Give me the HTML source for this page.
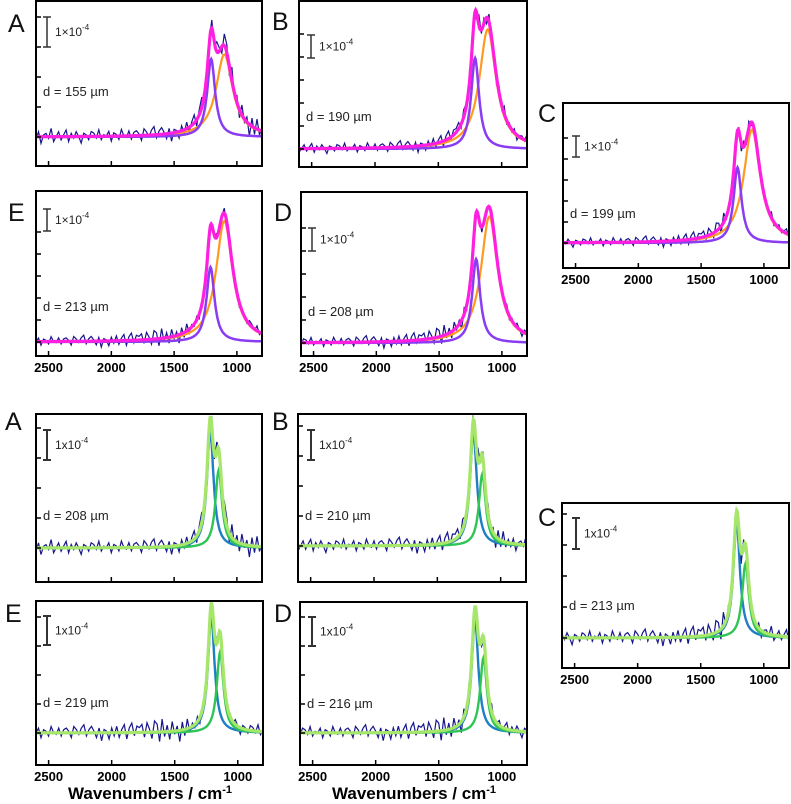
<!DOCTYPE html>
<html><head><meta charset="utf-8"><style>
html,body{margin:0;padding:0;background:#fff;}
svg{display:block;font-family:"Liberation Sans",Arial,sans-serif;}
</style></head><body>
<svg id="fig" width="791" height="804" viewBox="0 0 791 804" xmlns="http://www.w3.org/2000/svg">
<text x="150" y="799" font-size="17" font-weight="bold" text-anchor="middle">Wavenumbers / cm<tspan font-size="11" dy="-6">-1</tspan></text>
<text x="414" y="799" font-size="17" font-weight="bold" text-anchor="middle">Wavenumbers / cm<tspan font-size="11" dy="-6">-1</tspan></text>
</svg>
<script>
// ---- data (absorbance in units of 1e-4, wavenumbers cm-1) ----
const xTicks = [2500, 2000, 1500, 1000];
const topLetters = ['A','B','C','D','E'];
const topThickness = [155, 190, 199, 208, 213];
const topPurpleHeight = [2.6, 3.95, 3.6, 3.65, 3.4];
const topPurpleCenter = [1205, 1210, 1210, 1205, 1210];
const topOrangeHeight = [2.75, 5.2, 5.4, 5.5, 5.5];
const topOrangeCenter = [1100, 1110, 1095, 1100, 1100];
const botLetters = ['A','B','C','D','E'];
const botThickness = [208, 210, 213, 216, 219];
const botBlueHeight = [3.9, 3.8, 3.7, 3.9, 4.0];
const botBlueCenter = [1212, 1215, 1215, 1212, 1210];
const botGreenHeight = [2.6, 2.4, 2.4, 2.6, 2.8];
const botGreenCenter = [1145, 1145, 1145, 1145, 1140];
const noise = [-0.2,0.3,-0.4,0.1,0.2,-0.1,0.5,-0.3,0.0,0.3,-0.2,0.1,0.4,-0.3,0.2,-0.1,0.3,0.0,-0.4,0.2,
 0.1,-0.2,0.3,0.2,-0.1,0.4,-0.2,0.1,0.0,0.3,-0.3,0.2,0.1,-0.2,0.4,0.0,-0.1,0.3,-0.2,0.2,
 0.3,0.1,-0.3,0.4,0.2,-0.1,0.3,0.5,-0.2,0.2,0.4,0.1,-0.3,0.3,-0.5,0.2,0.1,-0.4,0.3,-0.2,
 0.4,-0.3,0.2,0.5,-0.4,0.3,0.6,-0.2,0.4,0.3,0.5,-0.3,0.6,0.2,-0.4,0.7,0.5,-0.6,0.8,-0.3,
 0.4,-0.5,0.6,-0.2,0.3,-0.7,0.5,-0.4,0.6,-0.3,0.2];
// ---- layout ----
const topLayout = [
 {x:36,y:1,w:226,h:165,base:29,scale:30,barX:11,barY:16,dY:90,lx:8,ly:23,labels:false},
 {x:299,y:1,w:228,h:166,base:18,scale:23,barX:12,barY:34,dY:115,lx:272,ly:21,labels:false},
 {x:563,y:103,w:226,h:165,base:25,scale:21,barX:13,barY:33,dY:110,lx:538,ly:113,labels:true},
 {x:301,y:192,w:226,h:164,base:13,scale:23,barX:11,barY:36,dY:119,lx:274,ly:212,labels:true},
 {x:36,y:191,w:226,h:165,base:14,scale:22,barX:11,barY:18,dY:115,lx:8,ly:212,labels:true}];
const botLayout = [
 {x:36,y:414,w:226,h:168,base:34,scale:30,barX:11,barY:16,dY:101,lx:5,ly:421,labels:false},
 {x:298,y:414,w:228,h:168,base:36,scale:30,barX:13,barY:16,dY:101,lx:272,ly:421,labels:false},
 {x:562,y:503,w:227,h:165,base:30,scale:31,barX:14,barY:15,dY:102,lx:538,ly:517,labels:true},
 {x:300,y:602,w:227,h:163,base:32,scale:29,barX:12,barY:15,dY:101,lx:274,ly:613,labels:true},
 {x:36,y:601,w:227,h:164,base:32,scale:29,barX:11,barY:15,dY:101,lx:5,ly:613,labels:true}];

const NS='http://www.w3.org/2000/svg';
const svg=document.getElementById('fig');
function mk(tag, attrs, parent){const e=document.createElementNS(NS,tag);for(const k in attrs)e.setAttribute(k,attrs[k]);(parent||svg).appendChild(e);return e;}
function lor(x,c,h,w){return h/(1+((x-c)/w)*((x-c)/w));}
const wns=[];for(let i=0;i<=90;i++)wns.push(2600-i*20);
const fine=[];for(let v=2600;v>=800;v-=5)fine.push(v);

function panel(L, letter, d, comps, sumColor, sumW, set, idx, topStyle){
  const g=mk('g',{});
  
  
  const sx=v=>L.x+(2600-v)/1800*L.w;
  const sy=a=>L.y+L.h-L.base-a*L.scale;
  const cid='clip'+set+idx;
  const cp=mk('clipPath',{id:cid},g);mk('rect',{x:L.x,y:L.y,width:L.w,height:L.h},cp);
  const plot=mk('g',{'clip-path':'url(#'+cid+')'},g);
  let p='';wns.forEach((v,i)=>{let s=0;comps.forEach(c=>s+=lor(v,c.c,c.h,c.w));const a=s+noise[(i+idx*7)%noise.length]*0.55;p+=(i?'L':'M')+sx(v).toFixed(1)+' '+sy(a).toFixed(1);});
  const tr=mk('path',{d:p,fill:'none',stroke:'#15168a','stroke-width':1.2},plot);
  
  
  comps.forEach(c=>{let q='';fine.forEach((v,i)=>{q+=(i?'L':'M')+sx(v).toFixed(1)+' '+sy(lor(v,c.c,c.h,c.w)).toFixed(1);});
    const e=mk('path',{d:q,fill:'none',stroke:c.col,'stroke-width':c.sw},plot);
    
    });
  let q='';fine.forEach((v,i)=>{let s=0;comps.forEach(c=>s+=lor(v,c.c,c.h,c.w));q+=(i?'L':'M')+sx(v).toFixed(1)+' '+sy(s).toFixed(1);});
  const sm=mk('path',{d:q,fill:'none',stroke:sumColor,'stroke-width':sumW},plot);
  
  
  const fr=mk('rect',{x:L.x,y:L.y,width:L.w,height:L.h,fill:'none',stroke:'#000','stroke-width':2},g);
  
  
  xTicks.forEach(t=>{mk('line',{x1:sx(t),x2:sx(t),y1:L.y+L.h,y2:L.y+L.h-5,stroke:'#000','stroke-width':1.5},g);
    if(L.labels){const tx=mk('text',{x:sx(t),y:L.y+L.h+16,'font-size':13,'font-weight':'bold','text-anchor':'middle'},g);tx.textContent=t;
      
      }});
  for(let k=0;k<6;k++){const yy=L.y+L.h-L.base-k*L.scale;if(yy<L.y+3)break;mk('line',{x1:L.x,x2:L.x+5,y1:yy,y2:yy,stroke:'#000','stroke-width':1.5},g);}
  const bx=L.x+L.barX,by=L.y+L.barY,bh=L.scale;
  const sb=mk('path',{d:`M${bx-4} ${by}H${bx+4}M${bx} ${by}V${by+bh}M${bx-4} ${by+bh}H${bx+4}`,stroke:'#333','stroke-width':topStyle?1.5:2,fill:'none'},g);
  
  
  const st=mk('text',{x:bx+8,y:by+bh/2+4,'font-size':12,fill:'#222'},g);
  st.innerHTML=(topStyle?'1×10':'1x10')+'<tspan font-size="8" dy="-6">-4</tspan>';
  
  
  const dt=mk('text',{x:L.x+7,y:L.y+L.dY+5,'font-size':13,fill:'#222'},g);dt.textContent='d = '+d+' µm';
  
  
  const lt=mk('text',{x:L.lx,y:L.ly+9,'font-size':25,fill:'#111'},g);lt.textContent=letter;
  
  
}
topLetters.forEach((l,i)=>panel(topLayout[i],l,topThickness[i],[
  {c:topOrangeCenter[i],h:topOrangeHeight[i],w:80,col:'#ff9a20',sw:2.2,name:'orange-component'},
  {c:topPurpleCenter[i],h:topPurpleHeight[i],w:38,col:'#8a3cf2',sw:2.5,name:'purple-component'}],'#ff1fe0',3.2,'top',i,true));
botLetters.forEach((l,i)=>panel(botLayout[i],l,botThickness[i],[
  {c:botBlueCenter[i],h:botBlueHeight[i],w:32,col:'#1f7fc4',sw:2.4,name:'blue-component'},
  {c:botGreenCenter[i],h:botGreenHeight[i],w:32,col:'#2fc456',sw:2.4,name:'green-component'}],'#a6e66a',3.2,'bottom',i,false));
</script>
</body></html>
